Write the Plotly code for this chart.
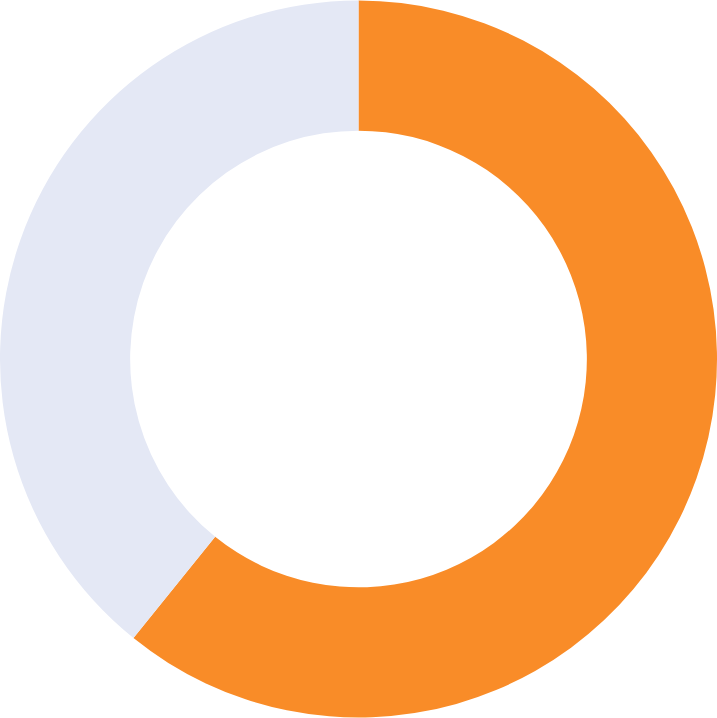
import plotly.graph_objects as go

# donut share values
labels = ["Filled", "Remaining"]
values = [60.8, 39.2]
colors = ["#F98C28", "#E4E8F5"]

fig = go.Figure(
    go.Pie(
        labels=labels,
        values=values,
        hole=0.637,
        sort=False,
        direction="clockwise",
        rotation=0,
        marker=dict(colors=colors, line=dict(width=0)),
        textinfo="none",
        hoverinfo="label+percent",
    )
)

fig.update_layout(
    width=717,
    height=718,
    margin=dict(l=0, r=0, t=0, b=0),
    showlegend=False,
    paper_bgcolor="white",
    plot_bgcolor="white",
)

# drop the default page margin so the chart sits flush in the window
fig.write_html(
    "out.html",
    config={"displayModeBar": False},
    post_script="document.body.style.margin='0';document.body.style.overflow='hidden';",
)
